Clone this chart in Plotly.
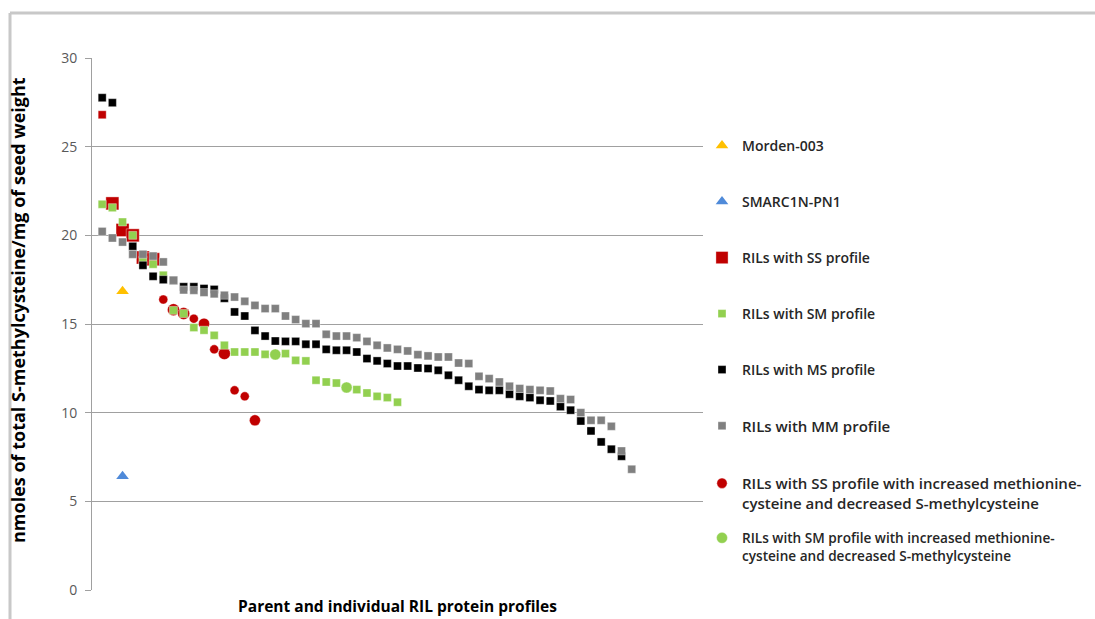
import plotly.graph_objects as go

# ---- data: nmoles total S-methylcysteine / mg seed weight, sorted within each profile ----
morden_x = [3]
morden_y = [16.84]
smarc_x = [3]
smarc_y = [6.42]

ss_y = [26.8, 21.8, 20.3, 20.0, 18.75, 18.65]

sm_y = [21.75, 21.56, 20.75, 20.0, 18.6, 18.37, 17.75, 15.77, 15.59, 14.8,
        14.65, 14.36, 13.8, 13.42, 13.42, 13.42, 13.29, None, 13.33, 12.95,
        12.92, 11.83, 11.73, 11.67, None, 11.3, 11.11, 10.92, 10.85, 10.59]

ms_y = [27.76, 27.48, None, 19.38, 18.31, 17.69, 17.5, 17.46, 17.1, 17.1,
        17.0, 16.95, 16.45, 15.68, 15.45, 14.64, 14.32, 14.04, 14.02, 14.02,
        13.86, 13.86, 13.57, 13.52, 13.52, 13.42, 13.05, 12.92, 12.77, 12.63,
        12.63, 12.52, 12.49, 12.39, 12.11, 11.83, 11.49, 11.3, 11.26, 11.26,
        11.04, 10.92, 10.85, 10.7, 10.66, 10.34, 10.14, 9.53, 8.97, 8.35,
        7.94, 7.54]

mm_y = [20.22, 19.85, 19.62, 18.93, 18.93, 18.83, 18.5, 17.46, 16.92, 16.9,
        16.78, 16.7, 16.62, 16.52, 16.28, 16.05, 15.87, 15.87, 15.45, 15.25,
        15.02, 15.02, 14.42, 14.32, 14.32, 14.23, 14.02, 13.8, 13.65, 13.57,
        13.48, 13.27, 13.2, 13.14, 13.14, 12.8, 12.77, 12.05, 11.92, 11.73,
        11.49, 11.36, 11.3, 11.26, 11.22, 10.79, 10.74, 10.0, 9.57, 9.57,
        9.23, 7.84, 6.81]

ss_circ_x = [7, 8, 9, 10, 11, 12, 13, 14, 15, 16]
ss_circ_y = [16.38, 15.81, 15.59, 15.3, 15.02, 13.57, 13.33, 11.26, 10.92, 9.57]

sm_circ_x = [18, 25]
sm_circ_y = [13.28, 11.42]

y_title = "nmoles of total S-methylcysteine/mg of seed weight"
x_title = "Parent and individual RIL protein profiles"

# ---- styling ----
ss_sizes = [8, 13, 13, 13, 13, 13]
ss_circ_sizes = [9, 12, 12, 9, 11, 9, 12, 9, 9, 11]

RED = "#C00000"
GREEN = "#92D050"
BLACK = "#000000"
GREY = "#808080"
ORANGE = "#FFC000"
BLUE = "#4F8AD9"
AXIS = "#A0A0A0"
FONT = "Open Sans"

W, H = 1095, 619
L, R, T, B = 92, 392, 58, 29
PW, PH = W - L - R, H - T - B


def px_to_paper_x(px):
    return (px - L) / PW


def px_to_paper_y(py):
    return (H - B - py) / PH


def idx(vals):
    return list(range(1, len(vals) + 1))


edge = dict(width=0.6, color="rgba(255,255,255,0.6)")

fig = go.Figure()

fig.add_trace(go.Scatter(x=idx(ss_y), y=ss_y, mode="markers", name="RILs with SS profile",
                         marker=dict(symbol="square", size=ss_sizes, color=RED, line=edge, opacity=1),
                         legend="legend3"))
fig.add_trace(go.Scatter(x=ss_circ_x, y=ss_circ_y, mode="markers",
                         name="RILs with SS profile with increased methionine-<br>cysteine and decreased S-methylcysteine",
                         marker=dict(symbol="circle", size=ss_circ_sizes, color=RED, line=edge, opacity=1),
                         legend="legend7"))
fig.add_trace(go.Scatter(x=idx(sm_y), y=sm_y, mode="markers", name="RILs with SM profile",
                         marker=dict(symbol="square", size=8, color=GREEN, line=edge),
                         legend="legend4"))
fig.add_trace(go.Scatter(x=sm_circ_x, y=sm_circ_y, mode="markers",
                         name="RILs with SM profile with increased methionine-<br>cysteine and decreased S-methylcysteine",
                         marker=dict(symbol="circle", size=11, color=GREEN, line=edge),
                         legend="legend8"))
fig.add_trace(go.Scatter(x=idx(ms_y), y=ms_y, mode="markers", name="RILs with MS profile",
                         marker=dict(symbol="square", size=8, color=BLACK, line=edge),
                         legend="legend5"))
fig.add_trace(go.Scatter(x=idx(mm_y), y=mm_y, mode="markers", name="RILs with MM profile",
                         marker=dict(symbol="square", size=8, color=GREY, line=edge),
                         legend="legend6"))
fig.add_trace(go.Scatter(x=morden_x, y=morden_y, mode="markers", name="Morden-003",
                         marker=dict(symbol="triangle-up", size=11, color=ORANGE),
                         legend="legend"))
fig.add_trace(go.Scatter(x=smarc_x, y=smarc_y, mode="markers", name="SMARC1N-PN1",
                         marker=dict(symbol="triangle-up", size=11, color=BLUE),
                         legend="legend2"))

# one legend box per entry so entries sit at fixed, evenly spaced rows
legend_rows = [146, 202, 258, 314, 370, 426, 493, 547]
legend_sizes = [14, 14, 14, 14, 14, 15, 15, 13.6]
legend_x = px_to_paper_x(702)
for i, (row, size) in enumerate(zip(legend_rows, legend_sizes)):
    key = "legend" if i == 0 else f"legend{i + 1}"
    fig.update_layout({key: dict(x=legend_x, y=px_to_paper_y(row), xanchor="left", yanchor="middle",
                                 bgcolor="rgba(0,0,0,0)", valign="top",
                                 font=dict(family=FONT, size=size, color="#262626", weight=600))})

# outer chart frame (top and left edges)
frame = dict(color="#C8C8C8", width=3)
fx0 = px_to_paper_x(10)
fy0 = px_to_paper_y(13)
fig.add_shape(type="line", xref="paper", yref="paper", x0=fx0, x1=px_to_paper_x(W + 10),
              y0=fy0, y1=fy0, line=frame)
fig.add_shape(type="line", xref="paper", yref="paper", x0=fx0, x1=fx0,
              y0=fy0, y1=px_to_paper_y(H + 10), line=frame)

# vertical axis title, set slightly above the plot's mid-height
fig.add_annotation(text=y_title, xref="paper", yref="paper",
                   x=px_to_paper_x(18), y=px_to_paper_y(310), xanchor="center", yanchor="middle",
                   textangle=-90, showarrow=False,
                   font=dict(family=FONT, size=18, color="#000000", weight="bold"))

fig.update_layout(
    width=W, height=H,
    margin=dict(l=L, r=R, t=T, b=B, autoexpand=False),
    paper_bgcolor="white", plot_bgcolor="white",
    font=dict(family=FONT, color="#595959"),
    showlegend=True,
    xaxis=dict(range=[0, 60], showticklabels=False, showgrid=False, zeroline=False,
               showline=False, ticks="", automargin=False,
               title=dict(text=x_title, standoff=11,
                          font=dict(family=FONT, size=15.5, color="#000000", weight="bold"))),
    yaxis=dict(range=[0, 30], dtick=5, showgrid=True, gridcolor=AXIS, gridwidth=1,
               zeroline=False, showline=True, linecolor=AXIS, linewidth=1,
               ticks="outside", ticklen=6, tickcolor=AXIS, automargin=False,
               ticklabelstandoff=5,
               tickfont=dict(family=FONT, size=14, color="#595959")),
)

fig.write_html("out.html")
